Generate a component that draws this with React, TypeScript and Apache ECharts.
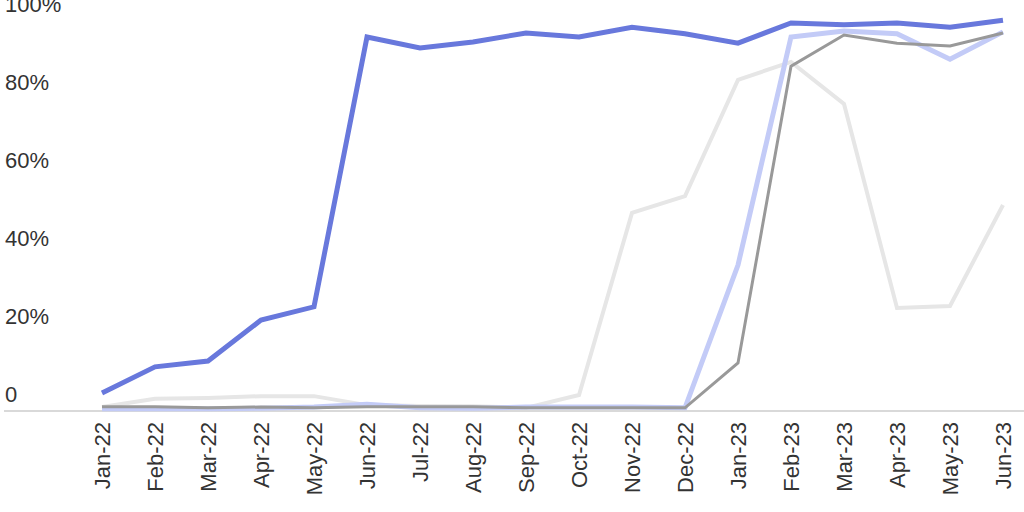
import React, { useEffect, useRef } from "react";
import * as echarts from "echarts";

const categories = [
  "Jan-22", "Feb-22", "Mar-22", "Apr-22", "May-22", "Jun-22", "Jul-22", "Aug-22", "Sep-22",
  "Oct-22", "Nov-22", "Dec-22", "Jan-23", "Feb-23", "Mar-23", "Apr-23", "May-23", "Jun-23",
];

const blueSeries = [4.1, 10.8, 12.3, 22.8, 26.2, 95.4, 92.6, 94.1, 96.4, 95.4, 97.9, 96.2, 93.8, 99.0, 98.5, 99.0, 97.9, 99.7];
const lightBlueSeries = [0, 0, 0, 0.2, 0.5, 1.2, 0.3, 0.2, 0.5, 0.5, 0.5, 0.3, 36.9, 95.4, 96.9, 96.2, 89.7, 96.7];
const graySeries = [0.6, 0.6, 0.3, 0.5, 0.3, 0.6, 0.6, 0.6, 0.3, 0.3, 0.3, 0.3, 11.8, 87.9, 95.9, 93.8, 93.1, 96.4];
const lightGraySeries = [0.5, 2.6, 2.8, 3.3, 3.3, 1.0, 0.8, 0.7, 0.3, 3.6, 50.3, 54.6, 84.4, 89.0, 78.2, 25.9, 26.4, 52.3];

const yTicks = [0, 20, 40, 60, 80, 100];

export default function App() {
  const ref = useRef<HTMLDivElement>(null);
  useEffect(() => {
    if (!ref.current) return;
    const chart = echarts.init(ref.current, null, { renderer: "svg" });
    const font = "'Liberation Sans', Arial, sans-serif";
    const line = (name: string, data: number[], color: string, width: number, z: number) => ({
      name,
      type: "line",
      data,
      symbol: "none",
      z,
      lineStyle: { color, width, join: "miter" },
      itemStyle: { color },
    });
    chart.setOption({
      animation: false,
      backgroundColor: "#ffffff",
      grid: { left: 102, right: 21, top: 19, bottom: 103, outerBoundsMode: "none", containLabel: false },
      xAxis: {
        type: "category",
        data: categories,
        boundaryGap: false,
        axisLine: { show: false },
        axisTick: { show: false },
        splitLine: { show: false },
        axisLabel: {
          rotate: 90,
          margin: 13,
          color: "#333333",
          fontSize: 22,
          fontFamily: font,
          interval: 0,
        },
      },
      yAxis: {
        type: "value",
        min: 0,
        max: 100,
        interval: 20,
        axisLine: { show: false },
        axisTick: { show: false },
        splitLine: { show: false },
        axisLabel: {
          align: "left",
          verticalAlign: "bottom",
          margin: 97,
          padding: [0, 0, 4, 0],
          color: "#333333",
          fontSize: 22,
          fontFamily: font,
          formatter: (v: number) => (v === 0 ? "0" : yTicks.includes(v) ? v + "%" : ""),
        },
      },
      graphic: [
        {
          type: "line",
          z: 0,
          shape: { x1: 4, y1: 411, x2: 1024, y2: 411 },
          style: { stroke: "#d9d9d9", lineWidth: 2 },
        },
      ],
      series: [
        line("Light gray", lightGraySeries, "#e6e6e6", 4, 2),
        line("Light blue", lightBlueSeries, "#c3cbf7", 5, 3),
        line("Gray", graySeries, "#999999", 3, 4),
        line("Blue", blueSeries, "#6878dc", 5, 5),
      ],
    });
    return () => chart.dispose();
  }, []);
  return (
    <div
      ref={ref}
      style={{ position: "fixed", left: 0, top: 0, width: 1024, height: 512 }}
    />
  );
}
